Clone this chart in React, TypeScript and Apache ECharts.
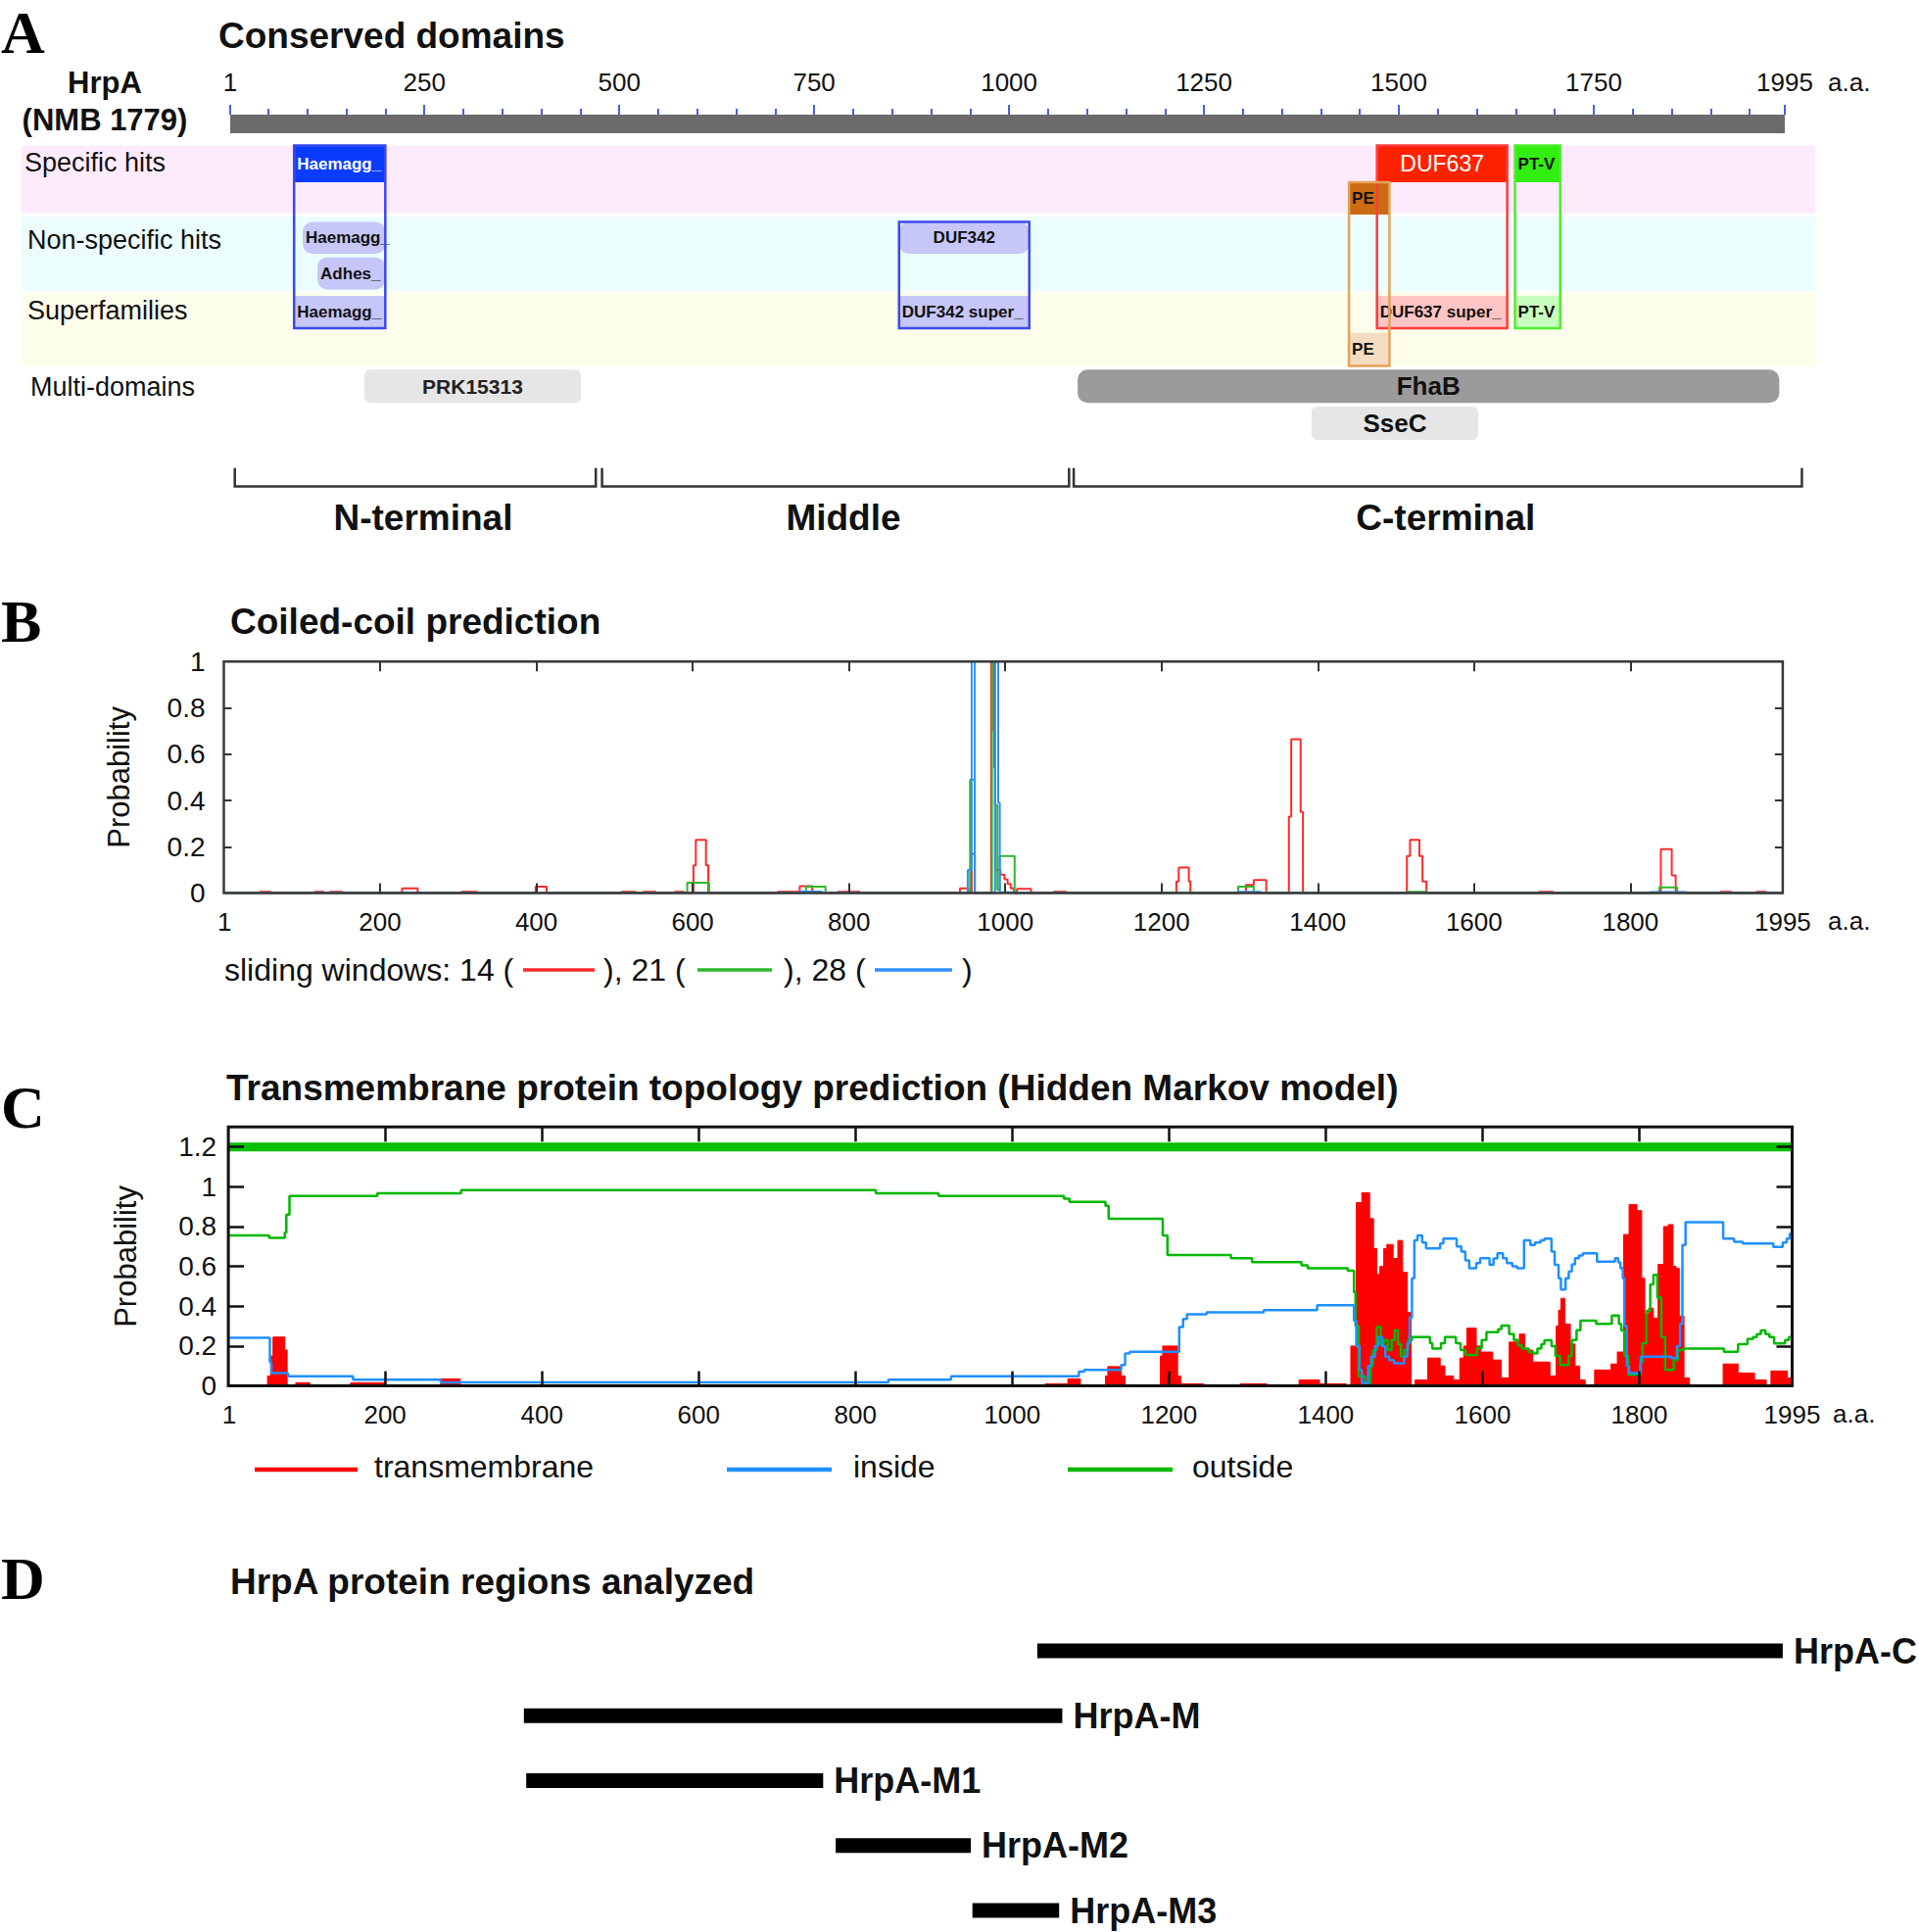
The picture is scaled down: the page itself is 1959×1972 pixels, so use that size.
import React, { useEffect, useRef } from 'react';
import * as echarts from 'echarts';

const FONT = '"Liberation Sans", Arial, Helvetica, sans-serif';
const SERIF = '"Liberation Serif", "Times New Roman", serif';

// ---------------- Panel A : conserved domains ----------------
const rulerLabelValues = [1, 250, 500, 750, 1000, 1250, 1500, 1750, 1995];
const rulerMinorTicks = [
  50, 100, 150, 200, 300, 350, 400, 450, 550, 600, 650, 700, 800, 850, 900, 950,
  1050, 1100, 1150, 1200, 1300, 1350, 1400, 1450, 1550, 1600, 1650, 1700, 1800, 1850, 1900, 1950,
];
const proteinSpan = [[1, 1995]];
const trackNames = ['Specific hits', 'Non-specific hits', 'Superfamilies', 'Multi-domains'];

const specificHits = [
  { name: 'Haemagg_', start: 83, end: 200, row: 0 },
  { name: 'PE', start: 1436, end: 1488, row: 1 },
  { name: 'DUF637', start: 1472, end: 1639, row: 0 },
  { name: 'PT-V', start: 1649, end: 1707, row: 0 },
];
const nonSpecificHits = [
  { name: 'Haemagg_', start: 94, end: 200, row: 0 },
  { name: 'Adhes_', start: 113, end: 200, row: 1 },
  { name: 'DUF342', start: 859, end: 1026, row: 0 },
];
const superfamilyHits = [
  { name: 'Haemagg_', start: 83, end: 200, row: 0 },
  { name: 'DUF342 super_', start: 859, end: 1026, row: 0 },
  { name: 'DUF637 super_', start: 1472, end: 1639, row: 0 },
  { name: 'PT-V', start: 1649, end: 1707, row: 0 },
  { name: 'PE', start: 1436, end: 1488, row: 1 },
];
const multiDomains = [
  { name: 'PRK15313', start: 173, end: 451, row: 0 },
  { name: 'FhaB', start: 1088, end: 1988, row: 0 },
  { name: 'SseC', start: 1388, end: 1602, row: 1 },
];
const hitFrames = [
  { start: 83, end: 200, fromTrack: 0, fromRow: 0, toTrack: 2, toRow: 0, tone: 'blue' },
  { start: 859, end: 1026, fromTrack: 1, fromRow: 0, toTrack: 2, toRow: 0, tone: 'blue' },
  { start: 1472, end: 1639, fromTrack: 0, fromRow: 0, toTrack: 2, toRow: 0, tone: 'red' },
  { start: 1649, end: 1707, fromTrack: 0, fromRow: 0, toTrack: 2, toRow: 0, tone: 'green' },
  { start: 1436, end: 1488, fromTrack: 0, fromRow: 1, toTrack: 2, toRow: 1, tone: 'orange' },
];
const proteinParts = [
  { name: 'N-terminal', start: 7, end: 470 },
  { name: 'Middle', start: 478, end: 1077 },
  { name: 'C-terminal', start: 1083, end: 2017 },
];

// ---------------- Panel B : coiled-coil ----------------
const coilTickValues = [200, 400, 600, 800, 1000, 1200, 1400, 1600, 1800];
const coilLabelValues = [1, 200, 400, 600, 800, 1000, 1200, 1400, 1600, 1800, 1995];
const coilProbLabels = [0, 0.2, 0.4, 0.6, 0.8, 1];
const coilProbTicks = [0.2, 0.4, 0.6, 0.8];

const coilWindow14 = [
  [1, 0], [46, 0.006], [60, 0], [116, 0.006], [128, 0], [136, 0.006], [152, 0],
  [228, 0.02], [248, 0], [304, 0.006], [324, 0], [399, 0.028], [413, 0],
  [509, 0.006], [527, 0], [537, 0.006], [553, 0], [577, 0.006], [589, 0],
  [601, 0.12], [604, 0.23], [617, 0.12], [620, 0],
  [709, 0.006], [737, 0.03], [753, 0], [786, 0.006], [814, 0],
  [942, 0.02], [953, 0], [957, 0.17], [961, 0],
  [982, 1], [985, 0.7], [986, 0.54], [987, 0.1], [994, 0.08], [999, 0.06], [1003, 0.04], [1007, 0.02], [1011, 0],
  [1015, 0.018], [1033, 0], [1062, 0.006], [1078, 0],
  [1219, 0.05], [1222, 0.11], [1235, 0.05], [1237, 0],
  [1308, 0.035], [1318, 0.056], [1334, 0],
  [1363, 0.33], [1366, 0.665], [1378, 0.35], [1381, 0],
  [1514, 0.16], [1518, 0.23], [1530, 0.16], [1534, 0.05], [1539, 0],
  [1683, 0.006], [1701, 0],
  [1839, 0.19], [1853, 0.077], [1858, 0],
  [1915, 0.006], [1929, 0], [1961, 0.006], [1974, 0], [1995, 0],
];
const coilWindow21 = [
  [1, 0], [593, 0.045], [621, 0], [745, 0.028], [770, 0],
  [955, 0.49], [961, 0], [983, 1], [987, 0.38], [990, 0.014], [993, 0.16], [1012, 0],
  [1298, 0.028], [1318, 0], [1514, 0.006], [1538, 0], [1837, 0.025], [1860, 0], [1995, 0],
];
const coilWindow28 = [
  [1, 0], [737, 0.007], [765, 0], [952, 0.1], [957, 1], [961, 0],
  [987, 1], [991, 0.39], [993, 0.004], [1013, 0],
  [1298, 0.006], [1327, 0], [1825, 0.005], [1872, 0], [1995, 0],
];

// ---------------- Panel C : TMHMM ----------------
const tmProbLabels = [0, 0.2, 0.4, 0.6, 0.8, 1, 1.2];
const tmProbTicks = [0.2, 0.4, 0.6, 0.8, 1, 1.2];
const outsideBar = [[1, 1.2], [1995, 1.2]];

const outsideProb = [
  [1, 0.756], [52, 0.743], [72, 0.77], [74, 0.86], [78, 0.954], [190, 0.967], [297, 0.983], [826, 0.967],
  [906, 0.954], [1066, 0.94], [1073, 0.924], [1119, 0.904], [1123, 0.839], [1192, 0.756], [1198, 0.657],
  [1279, 0.641], [1306, 0.621], [1369, 0.605], [1377, 0.591], [1428, 0.578], [1436, 0.47], [1438, 0.3],
  [1442, 0.048], [1450, 0.015], [1457, 0.1], [1460, 0.18], [1465, 0.295], [1470, 0.21], [1474, 0.23],
  [1479, 0.18], [1484, 0.23], [1488, 0.28], [1492, 0.21], [1496, 0.147], [1500, 0.18], [1505, 0.23],
  [1510, 0.245], [1533, 0.215], [1536, 0.188], [1547, 0.215], [1552, 0.245], [1566, 0.215], [1572, 0.18],
  [1578, 0.155], [1593, 0.19], [1599, 0.23], [1605, 0.27], [1620, 0.285], [1624, 0.303], [1634, 0.26],
  [1640, 0.23], [1645, 0.205], [1650, 0.188], [1659, 0.17], [1665, 0.163], [1670, 0.188], [1675, 0.21],
  [1679, 0.229], [1688, 0.2], [1693, 0.15], [1699, 0.105], [1710, 0.15], [1714, 0.23], [1720, 0.28],
  [1725, 0.328], [1745, 0.311], [1765, 0.353], [1774, 0.311], [1777, 0.278], [1781, 0.15], [1786, 0.056],
  [1801, 0.12], [1804, 0.213], [1809, 0.377], [1814, 0.51], [1818, 0.558], [1823, 0.443], [1828, 0.245],
  [1833, 0.08], [1844, 0.13], [1849, 0.18], [1856, 0.188], [1908, 0.171], [1926, 0.21], [1938, 0.235],
  [1945, 0.245], [1950, 0.26], [1955, 0.278], [1961, 0.26], [1966, 0.245], [1972, 0.213], [1986, 0.23],
  [1991, 0.245], [1995, 0.245],
];
const insideProb = [
  [1, 0.242], [53, 0.12], [55, 0.064], [76, 0.048], [159, 0.031], [271, 0.018], [842, 0.031], [922, 0.048],
  [1085, 0.072], [1092, 0.081], [1139, 0.105], [1144, 0.163], [1150, 0.171], [1213, 0.295], [1218, 0.336],
  [1223, 0.36], [1248, 0.369], [1321, 0.38], [1389, 0.405], [1436, 0.328], [1439, 0.2], [1443, 0.08],
  [1446, 0.015], [1454, 0.1], [1458, 0.147], [1463, 0.2], [1467, 0.245], [1472, 0.2], [1476, 0.147],
  [1481, 0.13], [1487, 0.114], [1500, 0.147], [1504, 0.213], [1507, 0.344], [1510, 0.54], [1513, 0.731],
  [1517, 0.756], [1523, 0.72], [1528, 0.69], [1546, 0.715], [1550, 0.74], [1567, 0.7], [1573, 0.674],
  [1578, 0.63], [1583, 0.591], [1592, 0.616], [1597, 0.641], [1609, 0.608], [1614, 0.64], [1619, 0.666],
  [1626, 0.641], [1631, 0.616], [1638, 0.6], [1644, 0.591], [1653, 0.731], [1661, 0.707], [1667, 0.72],
  [1674, 0.731], [1679, 0.74], [1688, 0.674], [1692, 0.608], [1697, 0.54], [1700, 0.484], [1706, 0.54],
  [1710, 0.575], [1714, 0.61], [1718, 0.641], [1723, 0.655], [1728, 0.666], [1746, 0.624], [1769, 0.641],
  [1773, 0.62], [1776, 0.591], [1779, 0.54], [1781, 0.3], [1784, 0.1], [1787, 0.064], [1802, 0.147],
  [1841, 0.14], [1848, 0.2], [1852, 0.311], [1855, 0.707], [1859, 0.822], [1907, 0.74], [1921, 0.723],
  [1932, 0.715], [1971, 0.698], [1983, 0.72], [1988, 0.74], [1992, 0.764], [1995, 0.764],
];
const transmembraneProb = [
  [1, 0], [50, 0.05], [54, 0.15], [57, 0.245], [72, 0.18], [75, 0], [86, 0.016], [104, 0], [156, 0.016],
  [200, 0], [271, 0.035], [296, 0], [1042, 0.01], [1071, 0.035], [1087, 0], [1119, 0.05], [1122, 0.097],
  [1139, 0.05], [1144, 0], [1189, 0.15], [1192, 0.2], [1211, 0.05], [1215, 0.01], [1244, 0], [1291, 0.01],
  [1325, 0], [1366, 0.03], [1392, 0.01], [1426, 0], [1432, 0.2], [1439, 0.92], [1446, 0.97], [1456, 0.84],
  [1461, 0.69], [1465, 0.56], [1469, 0.6], [1474, 0.69], [1478, 0.71], [1486, 0.64], [1492, 0.73],
  [1498, 0.57], [1504, 0.37], [1509, 0], [1514, 0.03], [1530, 0.14], [1546, 0.1], [1552, 0.05],
  [1563, 0.03], [1571, 0.14], [1576, 0.2], [1580, 0.29], [1592, 0.2], [1598, 0.17], [1613, 0.13],
  [1624, 0.04], [1634, 0.22], [1647, 0.26], [1654, 0.18], [1664, 0.12], [1686, 0.05], [1694, 0.3],
  [1697, 0.38], [1700, 0.44], [1705, 0.31], [1712, 0.21], [1718, 0.1], [1724, 0.03], [1731, 0],
  [1743, 0.08], [1764, 0.11], [1772, 0.17], [1780, 0.76], [1787, 0.91], [1797, 0.88], [1803, 0.54],
  [1807, 0.36], [1812, 0.39], [1818, 0.34], [1824, 0.61], [1831, 0.8], [1837, 0.81], [1843, 0.6],
  [1847, 0.59], [1851, 0.35], [1857, 0.04], [1864, 0], [1907, 0.11], [1926, 0.065], [1947, 0.03],
  [1962, 0], [1968, 0.075], [1989, 0.04], [1995, 0],
];

// ---------------- Panel D : analysed regions ----------------
const analyzedRegions = [
  { name: 'HrpA-C', start: 1041, end: 1995 },
  { name: 'HrpA-M', start: 384, end: 1073 },
  { name: 'HrpA-M1', start: 387, end: 767 },
  { name: 'HrpA-M2', start: 783, end: 956 },
  { name: 'HrpA-M3', start: 958, end: 1069 },
];

// ---------------- layout / style (not data) ----------------
const LANES: number[][][] = [
  [[0, 1.0], [1.0, 1.87]],
  [[2.07, 2.93], [3.03, 3.9]],
  [[4.07, 4.95], [5.07, 5.97]],
  [[6.07, 6.97], [7.07, 7.97]],
];
const BANDS = [
  { from: 0, to: 1.83, color: '#fdebfd' },
  { from: 1.93, to: 3.93, color: '#ebfdfd' },
  { from: 3.97, to: 5.97, color: '#fdfdeb' },
];
const BAND_X = [-267, 2034];
const FRAME_COLORS: Record<string, string> = { blue: '#3a48ee', red: '#ff3a3a', green: '#4eee2c', orange: '#e3a458' };
const LAVENDER = '#c6c6f8';
const DOMAIN_STYLE: Record<string, any> = {
  '0:Haemagg_': { fill: '#0a3cff', color: '#ffffff', size: 17, weight: 'bold', align: 'left', r: 1 },
  '0:PE': { fill: '#cc6a12', color: '#111', size: 17, weight: 'bold', align: 'left', r: 1 },
  '0:DUF637': { fill: '#ff2200', color: '#ffffff', size: 23, weight: 'normal', align: 'center', r: 1 },
  '0:PT-V': { fill: '#33ee11', color: '#111', size: 17, weight: 'bold', align: 'left', r: 1 },
  '1:Haemagg_': { fill: LAVENDER, color: '#111', size: 17, weight: 'bold', align: 'left', r: 10 },
  '1:Adhes_': { fill: LAVENDER, color: '#111', size: 17, weight: 'bold', align: 'left', r: 10 },
  '1:DUF342': { fill: LAVENDER, color: '#111', size: 17, weight: 'bold', align: 'center', r: 10 },
  '2:Haemagg_': { fill: LAVENDER, color: '#111', size: 17, weight: 'bold', align: 'left', r: 1 },
  '2:DUF342 super_': { fill: LAVENDER, color: '#111', size: 17, weight: 'bold', align: 'left', r: 1 },
  '2:DUF637 super_': { fill: '#ffc4c4', color: '#111', size: 17, weight: 'bold', align: 'left', r: 1 },
  '2:PT-V': { fill: '#c8ffc0', color: '#111', size: 17, weight: 'bold', align: 'left', r: 1 },
  '2:PE': { fill: '#f4dcc0', color: '#111', size: 17, weight: 'bold', align: 'left', r: 1 },
  '3:PRK15313': { fill: '#e6e6e6', color: '#222', size: 21, weight: 'bold', align: 'center', r: 6 },
  '3:FhaB': { fill: '#9b9b9b', color: '#111', size: 26, weight: 'bold', align: 'center', r: 10 },
  '3:SseC': { fill: '#e6e6e6', color: '#111', size: 26, weight: 'bold', align: 'center', r: 6 },
};

const domainBoxes = [
  ...specificHits.map((d) => ({ ...d, track: 0 })),
  ...nonSpecificHits.map((d) => ({ ...d, track: 1 })),
  ...superfamilyHits.map((d) => ({ ...d, track: 2 })),
  ...multiDomains.map((d) => ({ ...d, track: 3 })),
];

function txt(text: string, x: number, y: number, size: number, opts: any = {}) {
  return {
    type: 'text',
    x,
    y,
    z: 100,
    silent: true,
    style: {
      text,
      fontSize: size,
      fontFamily: opts.family || FONT,
      fontWeight: opts.weight || 'normal',
      fill: opts.fill || '#111',
      align: opts.align || 'left',
      verticalAlign: 'middle',
    },
  };
}
function seg(x1: number, x2: number, y: number, color: string, w: number) {
  return { type: 'line', z: 100, silent: true, shape: { x1, y1: y, x2, y2: y }, style: { stroke: color, lineWidth: w } };
}

const plainNumber = (v: number) => String(v);

function valueAxis(extra: any) {
  return {
    type: 'value',
    splitLine: { show: false },
    axisLine: { show: false, onZero: false },
    ...extra,
  };
}

function buildOption() {
  const tickStyleB = { color: '#333', width: 2 };
  const tickStyleC = { color: '#111', width: 2.5 };
  const labelStyle = { color: '#111', fontFamily: FONT, formatter: plainNumber };

  const graphic: any[] = [
    txt('A', 1, 33, 62, { family: SERIF, weight: 'bold', fill: '#000' }),
    txt('B', 1, 634, 62, { family: SERIF, weight: 'bold', fill: '#000' }),
    txt('C', 1, 1130, 62, { family: SERIF, weight: 'bold', fill: '#000' }),
    txt('D', 1, 1611, 62, { family: SERIF, weight: 'bold', fill: '#000' }),
    txt('Conserved domains', 223, 36, 37, { weight: 'bold' }),
    txt('Coiled-coil prediction', 235, 634, 37, { weight: 'bold' }),
    txt('Transmembrane protein topology prediction (Hidden Markov model)', 231, 1110, 37, { weight: 'bold' }),
    txt('HrpA protein regions analyzed', 235, 1614, 37, { weight: 'bold' }),
    txt('HrpA', 107, 84, 31, { weight: 'bold', align: 'center' }),
    txt('(NMB 1779)', 107, 122, 31, { weight: 'bold', align: 'center' }),
    txt('a.a.', 1866, 84, 26),
    txt('a.a.', 1866, 940, 26),
    txt('a.a.', 1871, 1443, 26),
    txt(trackNames[0], 25, 166, 27),
    txt(trackNames[1], 28, 245, 27),
    txt(trackNames[2], 28, 317, 27),
    txt(trackNames[3], 31, 395, 27),
    // coiled-coil legend
    txt('sliding windows: 14 (', 229, 990, 32),
    seg(534, 607, 990, '#ff2a2a', 3.5),
    txt('), 21 (', 616, 990, 32),
    seg(712, 788, 990, '#2cb82c', 3.5),
    txt('), 28 (', 800, 990, 32),
    seg(893, 972, 990, '#2f8fff', 3.5),
    txt(')', 982, 990, 32),
    // TMHMM legend
    seg(260, 365, 1500, '#ff0000', 4.5),
    txt('transmembrane', 382, 1497, 32),
    seg(742, 849, 1500, '#1e90ff', 4.5),
    txt('inside', 871, 1497, 32),
    seg(1090, 1197, 1500, '#00b800', 4.5),
    txt('outside', 1217, 1497, 32),
  ];

  return {
    animation: false,
    backgroundColor: '#ffffff',
    textStyle: { fontFamily: FONT },
    grid: [
      { left: 234.2, top: 117, width: 1587.8, height: 19, outerBoundsMode: 'none' },
      { left: 11.3, top: 148.4, width: 1878.3, height: 414.9, outerBoundsMode: 'none' },
      { left: 228.5, top: 675.2, width: 1591.4, height: 236.4, show: true, z: 5, borderColor: '#3a3a3a', borderWidth: 2.5, outerBoundsMode: 'none' },
      { left: 233.1, top: 1150.3, width: 1596.4, height: 264.3, show: true, z: 5, borderColor: '#111', borderWidth: 3, outerBoundsMode: 'none' },
      { left: 228.5, top: 1685, width: 1591.4, height: 265, outerBoundsMode: 'none' },
    ],
    xAxis: [
      valueAxis({
        gridIndex: 0, min: 0, max: 1995, position: 'top', z: 5,
        axisTick: { show: true, customValues: rulerLabelValues, length: 10, lineStyle: { color: '#4560e6', width: 2 } },
        axisLabel: { customValues: rulerLabelValues, fontSize: 26, margin: 20, ...labelStyle },
      }),
      valueAxis({
        gridIndex: 0, min: 0, max: 1995, position: 'top', offset: 0, z: 5,
        axisTick: { show: true, customValues: rulerMinorTicks, length: 6, lineStyle: { color: '#4560e6', width: 2 } },
        axisLabel: { show: false },
      }),
      valueAxis({ gridIndex: 1, min: -280, max: 2080, show: false }),
      valueAxis({
        gridIndex: 2, min: 0, max: 1995, position: 'bottom', z: 5,
        axisTick: { show: true, inside: true, customValues: coilTickValues, length: 10, lineStyle: tickStyleB },
        axisLabel: { customValues: coilLabelValues, fontSize: 26, margin: 16, ...labelStyle },
      }),
      valueAxis({
        gridIndex: 2, min: 0, max: 1995, position: 'top', z: 5,
        axisTick: { show: true, inside: true, customValues: coilTickValues, length: 10, lineStyle: tickStyleB },
        axisLabel: { show: false },
      }),
      valueAxis({
        gridIndex: 3, min: 0, max: 1995, position: 'bottom', z: 5,
        axisTick: { show: true, inside: true, customValues: coilTickValues, length: 15, lineStyle: tickStyleC },
        axisLabel: { customValues: coilLabelValues, fontSize: 26, margin: 16, ...labelStyle },
      }),
      valueAxis({
        gridIndex: 3, min: 0, max: 1995, position: 'top', z: 5,
        axisTick: { show: true, inside: true, customValues: coilTickValues, length: 15, lineStyle: tickStyleC },
        axisLabel: { show: false },
      }),
      valueAxis({ gridIndex: 4, min: 0, max: 1995, show: false }),
    ],
    yAxis: [
      valueAxis({ gridIndex: 0, min: 0, max: 1, show: false }),
      valueAxis({ gridIndex: 1, min: 0, max: 11, inverse: true, show: false }),
      valueAxis({
        gridIndex: 2, min: 0, max: 1, position: 'left', z: 5,
        axisTick: { show: true, inside: true, customValues: coilProbTicks, length: 8, lineStyle: tickStyleB },
        axisLabel: { customValues: coilProbLabels, fontSize: 28, margin: 19, color: '#111', fontFamily: FONT },
        name: 'Probability', nameLocation: 'middle', nameGap: 92, nameMoveOverlap: false,
        nameTextStyle: { fontSize: 31, color: '#111', fontFamily: FONT },
      }),
      valueAxis({
        gridIndex: 2, min: 0, max: 1, position: 'right', z: 5,
        axisTick: { show: true, inside: true, customValues: coilProbTicks, length: 8, lineStyle: tickStyleB },
        axisLabel: { show: false },
      }),
      valueAxis({
        gridIndex: 3, min: 0, max: 1.3, position: 'left', z: 5,
        axisTick: { show: true, inside: true, customValues: tmProbTicks, length: 16, lineStyle: tickStyleC },
        axisLabel: { customValues: tmProbLabels, fontSize: 28, margin: 12, color: '#111', fontFamily: FONT },
        name: 'Probability', nameLocation: 'middle', nameGap: 89, nameMoveOverlap: false,
        nameTextStyle: { fontSize: 31, color: '#111', fontFamily: FONT },
      }),
      valueAxis({
        gridIndex: 3, min: 0, max: 1.3, position: 'right', z: 5,
        axisTick: { show: true, inside: true, customValues: tmProbTicks, length: 16, lineStyle: tickStyleC },
        axisLabel: { show: false },
      }),
      valueAxis({ gridIndex: 4, min: 0, max: 4, inverse: true, show: false }),
    ],
    series: [
      // protein ruler bar
      {
        type: 'custom', xAxisIndex: 0, yAxisIndex: 0, silent: true, z: 1,
        data: proteinSpan,
        renderItem: (params: any, api: any) => {
          const p0 = api.coord([api.value(0), 1]);
          const p1 = api.coord([api.value(1), 0]);
          return { type: 'rect', shape: { x: p0[0], y: p0[1], width: p1[0] - p0[0], height: p1[1] - p0[1] }, style: { fill: '#6b6b6b' } };
        },
      },
      // track bands
      {
        type: 'custom', xAxisIndex: 2, yAxisIndex: 1, silent: true, z: 1,
        data: BANDS.map((b) => [b.from, b.to]),
        renderItem: (params: any, api: any) => {
          const b = BANDS[params.dataIndex];
          const p0 = api.coord([BAND_X[0], b.from]);
          const p1 = api.coord([BAND_X[1], b.to]);
          return { type: 'rect', shape: { x: p0[0], y: p0[1], width: p1[0] - p0[0], height: p1[1] - p0[1] }, style: { fill: b.color } };
        },
      },
      // domain boxes
      {
        type: 'custom', xAxisIndex: 2, yAxisIndex: 1, silent: true,
        data: domainBoxes.map((d) => [d.start, d.end]),
        renderItem: (params: any, api: any) => {
          const d = domainBoxes[params.dataIndex];
          const lane = LANES[d.track][d.row];
          const p0 = api.coord([d.start, lane[0]]);
          const p1 = api.coord([d.end, lane[1]]);
          const st = DOMAIN_STYLE[d.track + ':' + d.name];
          const tx = st.align === 'center' ? (p0[0] + p1[0]) / 2 : p0[0] + 3;
          return {
            type: 'group',
            children: [
              { type: 'rect', shape: { x: p0[0], y: p0[1], width: p1[0] - p0[0], height: p1[1] - p0[1], r: st.r }, style: { fill: st.fill } },
              {
                type: 'text', x: tx, y: (p0[1] + p1[1]) / 2,
                style: { text: d.name, fill: st.color, fontSize: st.size, fontWeight: st.weight, fontFamily: FONT, align: st.align, verticalAlign: 'middle' },
              },
            ],
          };
        },
      },
      // hit frames
      {
        type: 'custom', xAxisIndex: 2, yAxisIndex: 1, silent: true,
        data: hitFrames.map((f) => [f.start, f.end]),
        renderItem: (params: any, api: any) => {
          const f = hitFrames[params.dataIndex];
          const p0 = api.coord([f.start, LANES[f.fromTrack][f.fromRow][0]]);
          const p1 = api.coord([f.end, LANES[f.toTrack][f.toRow][1]]);
          return {
            type: 'rect',
            shape: { x: p0[0], y: p0[1], width: p1[0] - p0[0], height: p1[1] - p0[1] },
            style: { fill: 'none', stroke: FRAME_COLORS[f.tone], lineWidth: 2.5 },
          };
        },
      },
      // N / Middle / C brackets
      {
        type: 'custom', xAxisIndex: 2, yAxisIndex: 1, silent: true,
        data: proteinParts.map((p) => [p.start, p.end]),
        renderItem: (params: any, api: any) => {
          const p = proteinParts[params.dataIndex];
          const a = api.coord([p.start, 8.73]);
          const b = api.coord([p.start, 9.23]);
          const c = api.coord([p.end, 9.23]);
          const d = api.coord([p.end, 8.73]);
          const m = api.coord([(p.start + p.end) / 2, 10.07]);
          return {
            type: 'group',
            children: [
              { type: 'polyline', shape: { points: [a, b, c, d] }, style: { fill: 'none', stroke: '#333', lineWidth: 2.5 } },
              { type: 'text', x: m[0] + 8, y: m[1], style: { text: p.name, fontSize: 37, fontWeight: 'bold', fontFamily: FONT, fill: '#111', align: 'center', verticalAlign: 'middle' } },
            ],
          };
        },
      },
      // coiled-coil
      {
        type: 'line', name: '14', xAxisIndex: 3, yAxisIndex: 2, step: 'end', showSymbol: false, silent: true,
        data: coilWindow14, lineStyle: { color: '#ff2a2a', width: 2 },
      },
      {
        type: 'line', name: '21', xAxisIndex: 3, yAxisIndex: 2, step: 'end', showSymbol: false, silent: true,
        data: coilWindow21, lineStyle: { color: '#2cb82c', width: 2 },
      },
      {
        type: 'line', name: '28', xAxisIndex: 3, yAxisIndex: 2, step: 'end', showSymbol: false, silent: true,
        data: coilWindow28, lineStyle: { color: '#2f8fff', width: 2 },
      },
      // TMHMM
      {
        type: 'line', name: 'transmembrane', xAxisIndex: 5, yAxisIndex: 4, step: 'end', showSymbol: false, silent: true,
        data: transmembraneProb, lineStyle: { color: '#ff0000', width: 1 }, areaStyle: { color: '#ff0000', opacity: 1 },
      },
      {
        type: 'line', name: 'outside', xAxisIndex: 5, yAxisIndex: 4, step: 'end', showSymbol: false, silent: true,
        data: outsideProb, lineStyle: { color: '#00b800', width: 2.5 },
      },
      {
        type: 'line', name: 'inside', xAxisIndex: 5, yAxisIndex: 4, step: 'end', showSymbol: false, silent: true,
        data: insideProb, lineStyle: { color: '#1e90ff', width: 2.5 },
      },
      {
        type: 'line', name: 'outside bar', xAxisIndex: 5, yAxisIndex: 4, showSymbol: false, silent: true,
        data: outsideBar, lineStyle: { color: '#00c000', width: 9 },
      },
      // analysed regions
      {
        type: 'custom', xAxisIndex: 7, yAxisIndex: 6, silent: true,
        data: analyzedRegions.map((r) => [r.start, r.end]),
        renderItem: (params: any, api: any) => {
          const r = analyzedRegions[params.dataIndex];
          const p0 = api.coord([r.start, params.dataIndex]);
          const p1 = api.coord([r.end, params.dataIndex]);
          return {
            type: 'group',
            children: [
              { type: 'rect', shape: { x: p0[0], y: p0[1] - 7.5, width: p1[0] - p0[0], height: 15 }, style: { fill: '#000' } },
              { type: 'text', x: p1[0] + 11, y: p1[1], style: { text: r.name, fontSize: 36, fontWeight: 'bold', fontFamily: FONT, fill: '#111', align: 'left', verticalAlign: 'middle' } },
            ],
          };
        },
      },
    ],
    graphic,
  };
}

export default function App() {
  const ref = useRef<HTMLDivElement>(null);
  useEffect(() => {
    if (!ref.current) return;
    const chart = echarts.init(ref.current, null, { renderer: 'svg' });
    chart.setOption(buildOption() as any);
    return () => chart.dispose();
  }, []);
  return (
    <div
      ref={ref}
      style={{ position: 'absolute', left: 0, top: 0, width: 1959, height: 1972, background: '#ffffff' }}
    />
  );
}
